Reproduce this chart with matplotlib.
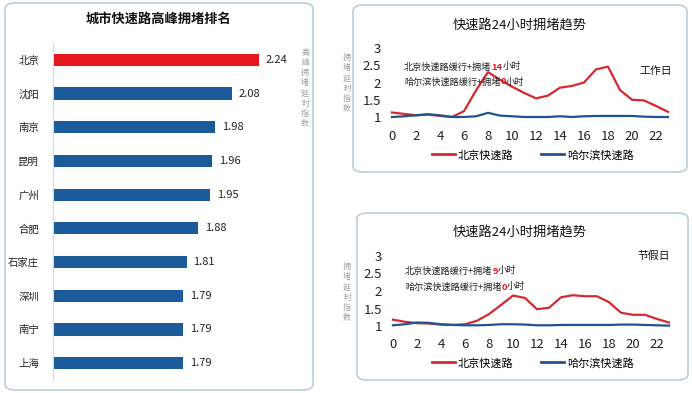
import matplotlib
matplotlib.use("Agg")
import matplotlib.pyplot as plt
from matplotlib.patches import FancyBboxPatch
from matplotlib.lines import Line2D

plt.rcParams['font.family'] = ['Noto Sans CJK SC', 'DejaVu Sans']

# ranking data
cities = ['北京', '沈阳', '南京', '昆明', '广州', '合肥', '石家庄', '深圳', '南宁', '上海']
peak_index = [2.24, 2.08, 1.98, 1.96, 1.95, 1.88, 1.81, 1.79, 1.79, 1.79]

# 24 hour trends
hours = list(range(24))
bj_workday = [1.13, 1.09, 1.05, 1.07, 1.03, 1.00, 1.17, 1.77, 2.30, 2.08, 1.88, 1.70,
              1.54, 1.62, 1.85, 1.90, 2.00, 2.38, 2.46, 1.78, 1.50, 1.48, 1.32, 1.15]
hrb_workday = [1.00, 1.02, 1.05, 1.08, 1.05, 1.00, 1.00, 1.02, 1.12, 1.04, 1.02, 1.00,
               1.00, 1.00, 1.02, 1.00, 1.02, 1.03, 1.03, 1.03, 1.03, 1.01, 1.00, 1.00]
bj_holiday = [1.18, 1.12, 1.08, 1.07, 1.04, 1.03, 1.05, 1.15, 1.34, 1.60, 1.87, 1.80,
              1.48, 1.52, 1.82, 1.88, 1.85, 1.85, 1.68, 1.38, 1.32, 1.32, 1.20, 1.10]
hrb_holiday = [1.02, 1.05, 1.10, 1.09, 1.05, 1.03, 1.02, 1.02, 1.03, 1.05, 1.05, 1.04,
               1.02, 1.02, 1.03, 1.03, 1.03, 1.03, 1.03, 1.04, 1.04, 1.03, 1.02, 1.01]

W, H = 692, 393
RED = '#e5161d'
BLUE = '#1b5a9b'
LRED = '#d42a2f'
LBLUE = '#1f558f'
BORDER = '#b9cde0'

fig = plt.figure(figsize=(W / 100, H / 100), dpi=100)
fig.patch.set_facecolor('white')


def px_axes(x0, y0, x1, y1):
    # pixel box (top-left origin) -> figure axes
    return fig.add_axes([x0 / W, 1 - y1 / H, (x1 - x0) / W, (y1 - y0) / H])


def rbox(x0, y0, x1, y1):
    p = FancyBboxPatch((x0 / W, 1 - y1 / H), (x1 - x0) / W, (y1 - y0) / H,
                       boxstyle="round,pad=0,rounding_size=0.015",
                       transform=fig.transFigure, fill=False,
                       edgecolor=BORDER, linewidth=1.2)
    fig.patches.append(p)


def ftext(x, y, s, **kw):
    return fig.text(x / W, 1 - y / H, s, **kw)


def rich_text(x, y, parts, size):
    # draw consecutive text pieces with different colors
    fig.canvas.draw()
    r = fig.canvas.get_renderer()
    cx = x
    for s, c, w in parts:
        t = ftext(cx, y, s, fontsize=size, color=c, fontweight=w,
                  ha='left', va='center')
        bb = t.get_window_extent(renderer=r)
        cx += bb.width


# panels
rbox(5, 3, 313, 390)
rbox(353, 5, 687, 172)
rbox(357, 213, 688, 380)

# ---- left: ranking bars ----
ftext(158, 19, '城市快速路高峰拥堵排名', fontsize=9.5, fontweight='bold',
      ha='center', va='center', color='#111111')
ax = px_axes(53, 43, 300, 380)
ypos = list(range(len(cities)))
colors = [RED] + [BLUE] * (len(cities) - 1)
ax.barh(ypos, peak_index, left=0, height=0.36, color=colors)
ax.set_xlim(1.02, 1.02 + 247 / 169)
ax.set_ylim(len(cities) - 0.5, -0.5)
ax.set_yticks(ypos)
ax.set_yticklabels(cities, fontsize=7.5, color='#222222')
ax.tick_params(axis='y', length=0, pad=10)
ax.set_xticks([])
for s in ['top', 'right', 'bottom']:
    ax.spines[s].set_visible(False)
ax.spines['left'].set_color('#d0d8e0')
ax.set_facecolor('none')
for i, v in enumerate(peak_index):
    ax.text(v + 0.04, i, f'{v:.2f}', va='center', ha='left',
            fontsize=8, color='#222222')
ftext(305, 88, '\n'.join('高峰拥堵延时指数'), fontsize=5.8, color='#a0a0a0',
      ha='center', va='center', linespacing=1.15)


# ---- right: trend lines ----
def trend(ybot, ytop, x0, bj, hrb):
    px_per_h = 12.0
    a = px_axes(x0, ytop, x0 + 23 * px_per_h, ybot)
    a.plot(hours, bj, color=LRED, lw=1.6, clip_on=False, solid_joinstyle='round')
    a.plot(hours, hrb, color=LBLUE, lw=1.6, clip_on=False, solid_joinstyle='round')
    a.set_xlim(0, 23)
    a.set_ylim(1, 3)
    a.set_xticks(list(range(0, 24, 2)))
    a.set_yticks([1, 1.5, 2, 2.5, 3])
    a.set_yticklabels(['1', '1.5', '2', '2.5', '3'])
    a.tick_params(length=0, labelsize=9.5, colors='#222222')
    a.tick_params(axis='x', pad=9)
    a.tick_params(axis='y', pad=8)
    for s in a.spines.values():
        s.set_visible(False)
    a.set_facecolor('none')
    return a


# workday
ftext(520, 25, '快速路24小时拥堵趋势', fontsize=9.5, ha='center', va='center',
      color='#111111')
trend(117, 48, 392, bj_workday, hrb_workday)
ftext(347, 83, '\n'.join('拥堵延时指数'), fontsize=5.8, color='#a0a0a0',
      ha='center', va='center', linespacing=1.15)
ftext(656, 71, '工作日', fontsize=7.8, ha='center', va='center', color='#111111')

# holiday
ftext(520, 232, '快速路24小时拥堵趋势', fontsize=9.5, ha='center', va='center',
      color='#111111')
trend(326, 256, 393, bj_holiday, hrb_holiday)
ftext(347, 292, '\n'.join('拥堵延时指数'), fontsize=5.8, color='#a0a0a0',
      ha='center', va='center', linespacing=1.15)
ftext(654, 256, '节假日', fontsize=7.8, ha='center', va='center', color='#111111')

# legends
handles = [Line2D([], [], color=LRED, lw=2), Line2D([], [], color=LBLUE, lw=2)]
names = ['北京快速路', '哈尔滨快速路']
for ly in (155, 363):
    fig.legend(handles, names, loc='center', bbox_to_anchor=(533 / W, 1 - ly / H),
               ncol=2, frameon=False, fontsize=8, handlelength=2.0,
               handletextpad=0.3, columnspacing=2.5)

# annotations with colored numbers
rich_text(404, 67, [('北京快速路缓行+拥堵', '#222222', 'normal'), ('14', RED, 'bold'),
                    ('小时', '#222222', 'normal')], 6.6)
rich_text(404, 82, [('哈尔滨快速路缓行+拥堵', '#222222', 'normal'), ('0', RED, 'bold'),
                    ('小时', '#222222', 'normal')], 6.6)
rich_text(405, 271, [('北京快速路缓行+拥堵', '#222222', 'normal'), ('9', RED, 'bold'),
                     ('小时', '#222222', 'normal')], 6.6)
rich_text(405, 287, [('哈尔滨快速路缓行+拥堵', '#222222', 'normal'), ('0', RED, 'bold'),
                     ('小时', '#222222', 'normal')], 6.6)

fig.savefig('out.png', dpi=100)
